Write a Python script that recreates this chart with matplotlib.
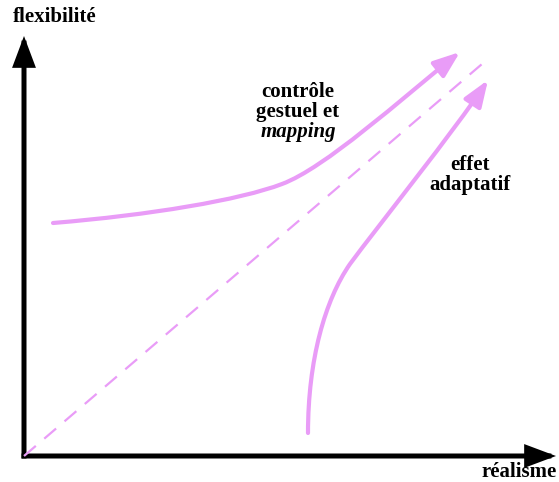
import matplotlib.pyplot as plt
from matplotlib.patches import FancyArrowPatch
from matplotlib.path import Path

# diagram drawn in pixel coordinates of the original picture
W, H = 559, 482
violet = '#e99cf7'

origin = (24, 456)
x_axis_end = (556, 456)
y_axis_end = (24, 36)
diag_end = (482, 64)

# "contrôle gestuel et mapping" curve: start, ctrl, ctrl, mid, ctrl, ctrl, end
upper_curve = [(53, 223), (150, 215), (240, 200), (282, 184),
               (325, 168), (400, 100), (460, 52)]
# "effet adaptatif" curve
lower_curve = [(308, 433), (308, 360), (325, 300), (350, 264),
               (378, 226), (455, 130), (488, 80)]

labels = {
    'flexibilite': 'flexibilité',
    'realisme': 'réalisme',
    'adapt': 'effet\nadaptatif',
}

plt.rcParams['font.family'] = ['Liberation Serif', 'DejaVu Serif']

fig = plt.figure(figsize=(W / 100, H / 100), dpi=100)
ax = fig.add_axes([0, 0, 1, 1])
ax.set_xlim(0, W)
ax.set_ylim(H, 0)
ax.axis('off')


def bezier(points):
    codes = [Path.MOVETO] + [Path.CURVE4] * (len(points) - 1)
    return Path(points, codes)


# axes
for end in (x_axis_end, y_axis_end):
    ax.add_patch(FancyArrowPatch(origin, end, arrowstyle='-|>,head_length=1.6,head_width=0.6',
                                 mutation_scale=10, color='black', lw=3.6,
                                 shrinkA=0, shrinkB=0, joinstyle='miter', capstyle='projecting'))

# dashed diagonal
ax.plot([origin[0], diag_end[0]], [origin[1], diag_end[1]], color=violet, lw=1.6,
        dashes=(7, 5))

# curves with arrowheads
for pts in (upper_curve, lower_curve):
    ax.add_patch(FancyArrowPatch(path=bezier(pts), arrowstyle='-|>,head_length=1.6,head_width=0.6',
                                 mutation_scale=10, color=violet, lw=3.0,
                                 shrinkA=0, shrinkB=0))

fs = 15
ax.text(55, 17, labels['flexibilite'], fontsize=fs, fontweight='bold', ha='center', va='center')
ax.text(557, 472, labels['realisme'], fontsize=fs, fontweight='bold', ha='right', va='center')
ax.text(298, 92, 'contrôle', fontsize=fs, fontweight='bold', ha='center', va='center')
ax.text(298, 112, 'gestuel et', fontsize=fs, fontweight='bold', ha='center', va='center')
ax.text(298, 132, 'mapping', fontsize=fs, fontweight='bold', style='italic', ha='center', va='center')
ax.text(470, 175, labels['adapt'], fontsize=fs, fontweight='bold', ha='center', va='center',
        linespacing=0.95)

fig.savefig('out.png', dpi=100)
